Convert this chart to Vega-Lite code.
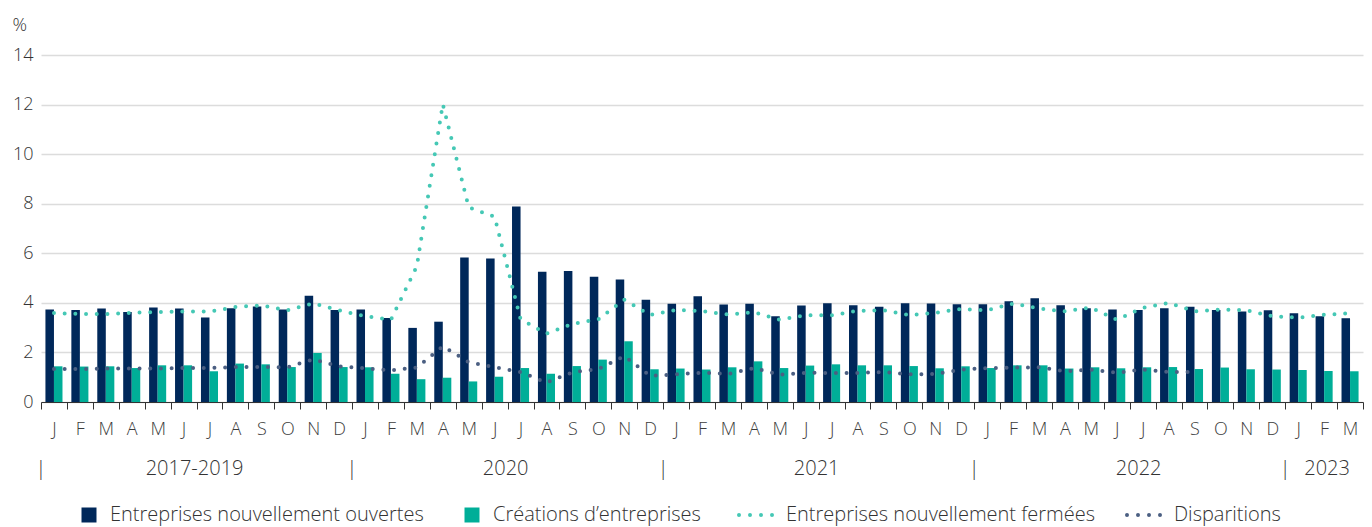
{
  "$schema": "https://vega.github.io/schema/vega-lite/v6.json",
  "width": 1322,
  "height": 347,
  "autosize": {"type": "none"},
  "padding": {"left": 41, "top": 55, "right": 9, "bottom": 125},
  "config": {
    "font": "Open Sans",
    "view": {"stroke": null},
    "axis": {"labelFont": "Open Sans", "labelFontWeight": 300, "labelColor": "#333333", "titleFont": "Open Sans"},
    "legend": {
      "labelFont": "Open Sans", "labelFontWeight": 300, "labelColor": "#333333", "labelFontSize": 20, "labelLimit": 1000
    }
  },
  "data": {
    "values": [
      {"cle": "2017-2019|01", "ouvertes": 3.73, "creations": 1.44, "fermees": 3.59, "disparitions": 1.33},
      {"cle": "2017-2019|02", "ouvertes": 3.71, "creations": 1.43, "fermees": 3.55, "disparitions": 1.33},
      {"cle": "2017-2019|03", "ouvertes": 3.77, "creations": 1.44, "fermees": 3.55, "disparitions": 1.35},
      {"cle": "2017-2019|04", "ouvertes": 3.63, "creations": 1.37, "fermees": 3.60, "disparitions": 1.35},
      {"cle": "2017-2019|05", "ouvertes": 3.81, "creations": 1.48, "fermees": 3.63, "disparitions": 1.35},
      {"cle": "2017-2019|06", "ouvertes": 3.77, "creations": 1.48, "fermees": 3.65, "disparitions": 1.37},
      {"cle": "2017-2019|07", "ouvertes": 3.41, "creations": 1.24, "fermees": 3.65, "disparitions": 1.37},
      {"cle": "2017-2019|08", "ouvertes": 3.78, "creations": 1.55, "fermees": 3.83, "disparitions": 1.41},
      {"cle": "2017-2019|09", "ouvertes": 3.85, "creations": 1.52, "fermees": 3.90, "disparitions": 1.41},
      {"cle": "2017-2019|10", "ouvertes": 3.73, "creations": 1.41, "fermees": 3.70, "disparitions": 1.40},
      {"cle": "2017-2019|11", "ouvertes": 4.29, "creations": 1.98, "fermees": 3.98, "disparitions": 1.72},
      {"cle": "2017-2019|12", "ouvertes": 3.71, "creations": 1.41, "fermees": 3.70, "disparitions": 1.44},
      {"cle": "2020|01", "ouvertes": 3.73, "creations": 1.40, "fermees": 3.46, "disparitions": 1.36},
      {"cle": "2020|02", "ouvertes": 3.39, "creations": 1.14, "fermees": 3.32, "disparitions": 1.28},
      {"cle": "2020|03", "ouvertes": 2.99, "creations": 0.92, "fermees": 5.48, "disparitions": 1.39},
      {"cle": "2020|04", "ouvertes": 3.24, "creations": 0.98, "fermees": 12.02, "disparitions": 2.25},
      {"cle": "2020|05", "ouvertes": 5.83, "creations": 0.83, "fermees": 7.86, "disparitions": 1.61},
      {"cle": "2020|06", "ouvertes": 5.79, "creations": 1.02, "fermees": 7.47, "disparitions": 1.40},
      {"cle": "2020|07", "ouvertes": 7.89, "creations": 1.37, "fermees": 3.34, "disparitions": 1.21},
      {"cle": "2020|08", "ouvertes": 5.26, "creations": 1.14, "fermees": 2.76, "disparitions": 0.78},
      {"cle": "2020|09", "ouvertes": 5.29, "creations": 1.45, "fermees": 3.15, "disparitions": 1.20},
      {"cle": "2020|10", "ouvertes": 5.05, "creations": 1.71, "fermees": 3.34, "disparitions": 1.33},
      {"cle": "2020|11", "ouvertes": 4.94, "creations": 2.45, "fermees": 4.13, "disparitions": 1.85},
      {"cle": "2020|12", "ouvertes": 4.13, "creations": 1.32, "fermees": 3.51, "disparitions": 1.05},
      {"cle": "2021|01", "ouvertes": 3.96, "creations": 1.35, "fermees": 3.71, "disparitions": 1.12},
      {"cle": "2021|02", "ouvertes": 4.27, "creations": 1.31, "fermees": 3.67, "disparitions": 1.18},
      {"cle": "2021|03", "ouvertes": 3.93, "creations": 1.40, "fermees": 3.53, "disparitions": 1.13},
      {"cle": "2021|04", "ouvertes": 3.96, "creations": 1.64, "fermees": 3.62, "disparitions": 1.37},
      {"cle": "2021|05", "ouvertes": 3.46, "creations": 1.37, "fermees": 3.32, "disparitions": 1.10},
      {"cle": "2021|06", "ouvertes": 3.89, "creations": 1.47, "fermees": 3.50, "disparitions": 1.18},
      {"cle": "2021|07", "ouvertes": 3.98, "creations": 1.52, "fermees": 3.50, "disparitions": 1.17},
      {"cle": "2021|08", "ouvertes": 3.90, "creations": 1.48, "fermees": 3.68, "disparitions": 1.17},
      {"cle": "2021|09", "ouvertes": 3.84, "creations": 1.48, "fermees": 3.70, "disparitions": 1.21},
      {"cle": "2021|10", "ouvertes": 3.98, "creations": 1.45, "fermees": 3.50, "disparitions": 1.12},
      {"cle": "2021|11", "ouvertes": 3.97, "creations": 1.36, "fermees": 3.60, "disparitions": 1.13},
      {"cle": "2021|12", "ouvertes": 3.94, "creations": 1.44, "fermees": 3.75, "disparitions": 1.31},
      {"cle": "2022|01", "ouvertes": 3.94, "creations": 1.37, "fermees": 3.70, "disparitions": 1.37},
      {"cle": "2022|02", "ouvertes": 4.06, "creations": 1.48, "fermees": 3.97, "disparitions": 1.39},
      {"cle": "2022|03", "ouvertes": 4.19, "creations": 1.48, "fermees": 3.77, "disparitions": 1.40},
      {"cle": "2022|04", "ouvertes": 3.90, "creations": 1.35, "fermees": 3.66, "disparitions": 1.24},
      {"cle": "2022|05", "ouvertes": 3.78, "creations": 1.40, "fermees": 3.81, "disparitions": 1.31},
      {"cle": "2022|06", "ouvertes": 3.73, "creations": 1.36, "fermees": 3.32, "disparitions": 1.18},
      {"cle": "2022|07", "ouvertes": 3.71, "creations": 1.40, "fermees": 3.80, "disparitions": 1.31},
      {"cle": "2022|08", "ouvertes": 3.78, "creations": 1.41, "fermees": 4.00, "disparitions": 1.21},
      {"cle": "2022|09", "ouvertes": 3.84, "creations": 1.33, "fermees": 3.66, "disparitions": 1.21},
      {"cle": "2022|10", "ouvertes": 3.71, "creations": 1.39, "fermees": 3.73, "disparitions": null},
      {"cle": "2022|11", "ouvertes": 3.65, "creations": 1.32, "fermees": 3.70, "disparitions": null},
      {"cle": "2022|12", "ouvertes": 3.70, "creations": 1.31, "fermees": 3.46, "disparitions": null},
      {"cle": "2023|01", "ouvertes": 3.58, "creations": 1.29, "fermees": 3.40, "disparitions": null},
      {"cle": "2023|02", "ouvertes": 3.46, "creations": 1.25, "fermees": 3.52, "disparitions": null},
      {"cle": "2023|03", "ouvertes": 3.38, "creations": 1.24, "fermees": 3.58, "disparitions": null}
    ]
  },
  "layer": [
    {
      "transform": [{"fold": ["ouvertes", "creations"], "as": ["serie", "valeur"]}],
      "mark": {"type": "bar"},
      "encoding": {
        "x": {
          "field": "cle", "type": "nominal", "sort": null,
          "scale": {"paddingInner": 0, "paddingOuter": 0},
          "axis": {
            "title": null,
            "labelExpr": "['J','F','M','A','M','J','J','A','S','O','N','D'][toNumber(split(datum.value,'|')[1]) - 1]",
            "labelAngle": 0,
            "tickBand": "extent",
            "tickSize": 7,
            "tickColor": "#333333",
            "domainColor": "#333333",
            "labelFontSize": 18,
            "labelPadding": 11,
            "labelColor": "#3c3c3c",
            "grid": false
          }
        },
        "xOffset": {
          "field": "serie", "type": "nominal", "sort": ["ouvertes", "creations"],
          "scale": {"paddingInner": 0, "paddingOuter": 0.52}
        },
        "y": {
          "field": "valeur", "type": "quantitative",
          "scale": {"domain": [0, 14], "nice": false},
          "axis": {
            "title": "%",
            "titleAngle": 0,
            "titleAlign": "left",
            "titleBaseline": "middle",
            "titleX": -29,
            "titleY": -30,
            "titleFontSize": 18,
            "titleFontWeight": 300,
            "titleColor": "#333333",
            "values": [0, 2, 4, 6, 8, 10, 12, 14],
            "domain": false,
            "ticks": false,
            "labelPadding": 8,
            "labelFontSize": 18,
            "gridColor": "#dcdcdc",
            "gridWidth": 1.5
          }
        },
        "color": {
          "field": "serie", "type": "nominal",
          "scale": {"domain": ["ouvertes", "creations"], "range": ["#00285a", "#00ae98"]},
          "legend": {
            "title": null,
            "orient": "none",
            "legendX": 38,
            "legendY": 450,
            "direction": "horizontal",
            "symbolType": "square",
            "symbolSize": 225,
            "symbolStrokeWidth": 0,
            "labelOffset": 11,
            "columnPadding": 38,
            "labelExpr": "datum.value == 'ouvertes' ? 'Entreprises nouvellement ouvertes' : 'Créations d’entreprises'"
          }
        }
      }
    },
    {
      "transform": [
        {"fold": ["fermees", "disparitions"], "as": ["serie", "valeur"]},
        {"filter": "isValid(datum.valeur)"}
      ],
      "mark": {"type": "line", "strokeDash": [0, 10.7], "strokeCap": "round", "strokeWidth": 4},
      "encoding": {
        "x": {
          "field": "cle", "type": "nominal", "sort": null,
          "axis": {
            "title": null,
            "orient": "bottom",
            "values": ["2017-2019|01", "2017-2019|06", "2020|01", "2020|06", "2021|01", "2021|06", "2022|01", "2022|07", "2023|01", "2023|02"],
            "labelExpr": "split(datum.value,'|')[1] == '01' ? '|' : split(datum.value,'|')[0]",
            "labelAngle": 0,
            "domain": false,
            "ticks": false,
            "tickSize": 0,
            "labelPadding": 56,
            "labelFontSize": 20,
            "labelColor": "#333333",
            "labelOverlap": false,
            "labelBound": false,
            "grid": false,
            "labelOffset": {
              "condition": [
                {"test": "split(datum.value,'|')[1] == '01'", "value": -13},
                {"test": "datum.value == '2022|07'", "value": -4},
                {"test": "datum.value == '2023|02'", "value": 3}
              ],
              "value": 11
            }
          }
        },
        "y": {"field": "valeur", "type": "quantitative"},
        "stroke": {
          "field": "serie", "type": "nominal",
          "scale": {"domain": ["fermees", "disparitions"], "range": ["#45c8b5", "#4b5f82"]},
          "legend": {
            "title": null,
            "orient": "none",
            "legendX": 693,
            "legendY": 450,
            "direction": "horizontal",
            "symbolType": "M-0.714,0L4.2,0",
            "symbolSize": 196,
            "symbolStrokeWidth": 4,
            "symbolDash": [0, 11],
            "labelOffset": 32,
            "columnPadding": 24,
            "labelExpr": "datum.value == 'fermees' ? 'Entreprises nouvellement fermées' : 'Disparitions'",
            "encode": {"symbols": {"update": {"strokeCap": {"value": "round"}}}}
          }
        }
      }
    }
  ],
  "resolve": {"axis": {"x": "independent"}}
}
